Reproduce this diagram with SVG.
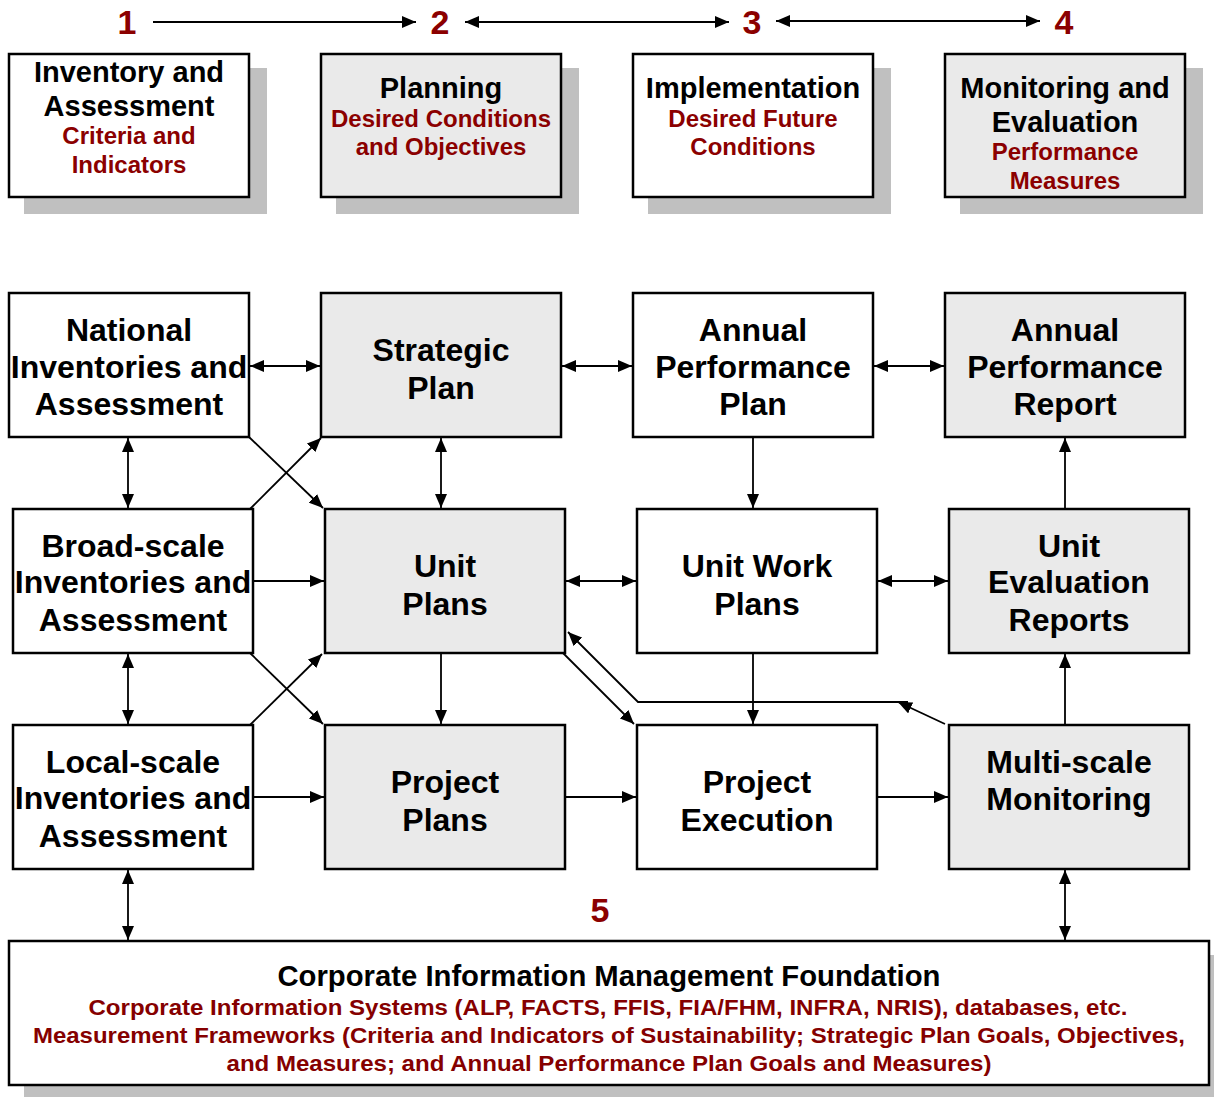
<svg xmlns="http://www.w3.org/2000/svg" width="1214" height="1097" viewBox="0 0 1214 1097">
<style>
.bx{stroke:#000;stroke-width:2.5}
.w{fill:#fff}
.g{fill:#eaeaea}
.sh{fill:#c0c0c0}
text{font-family:"Liberation Sans",Arial,sans-serif;font-weight:bold;text-anchor:middle}
.t{font-size:29px;fill:#000}
.r{font-size:24px;fill:#8b0000}
.m{font-size:32px;fill:#000}
.n{font-size:34px;fill:#8b0000}
.f{font-size:29px;fill:#000}
.fr{font-size:22px;fill:#850000}
.c{fill:none;stroke:#000;stroke-width:1.8}
</style>
<defs>
<marker id="ah" markerUnits="userSpaceOnUse" markerWidth="14" markerHeight="12" refX="14" refY="6" orient="auto-start-reverse" viewBox="0 0 14 12">
<path d="M0,0 L14,6 L0,12 z" fill="#000"/>
</marker>
</defs>
<rect width="1214" height="1097" fill="#fff"/>

<g id="num1"><text class="n" x="127" y="34">1</text></g>
<g id="num2"><text class="n" x="440" y="34">2</text></g>
<g id="num3"><text class="n" x="752" y="34">3</text></g>
<g id="num4"><text class="n" x="1064" y="34">4</text></g>
<g id="num5"><text class="n" x="600" y="922">5</text></g>

<g id="phase1">
<rect class="sh" x="24" y="68" width="243" height="146"/>
<rect class="bx w" x="9" y="54" width="240" height="143"/>
<text class="t" x="129" y="82">Inventory and</text>
<text class="t" x="129" y="116">Assessment</text>
<text class="r" x="129" y="144">Criteria and</text>
<text class="r" x="129" y="173">Indicators</text>
</g>
<g id="phase2">
<rect class="sh" x="336" y="68" width="243" height="146"/>
<rect class="bx g" x="321" y="54" width="240" height="143"/>
<text class="t" x="441" y="98">Planning</text>
<text class="r" x="441" y="127">Desired Conditions</text>
<text class="r" x="441" y="155">and Objectives</text>
</g>
<g id="phase3">
<rect class="sh" x="648" y="68" width="243" height="146"/>
<rect class="bx w" x="633" y="54" width="240" height="143"/>
<text class="t" x="753" y="98">Implementation</text>
<text class="r" x="753" y="127">Desired Future</text>
<text class="r" x="753" y="155">Conditions</text>
</g>
<g id="phase4">
<rect class="sh" x="960" y="68" width="243" height="146"/>
<rect class="bx g" x="945" y="54" width="240" height="143"/>
<text class="t" x="1065" y="98">Monitoring and</text>
<text class="t" x="1065" y="132">Evaluation</text>
<text class="r" x="1065" y="160">Performance</text>
<text class="r" x="1065" y="189">Measures</text>
</g>

<g id="national">
<rect class="bx w" x="9" y="293" width="240" height="144"/>
<text class="m" x="129" y="341">National</text>
<text class="m" x="129" y="378">Inventories and</text>
<text class="m" x="129" y="415">Assessment</text>
</g>
<g id="strategic">
<rect class="bx g" x="321" y="293" width="240" height="144"/>
<text class="m" x="441" y="361">Strategic</text>
<text class="m" x="441" y="399">Plan</text>
</g>
<g id="app">
<rect class="bx w" x="633" y="293" width="240" height="144"/>
<text class="m" x="753" y="341">Annual</text>
<text class="m" x="753" y="378">Performance</text>
<text class="m" x="753" y="415">Plan</text>
</g>
<g id="apr">
<rect class="bx g" x="945" y="293" width="240" height="144"/>
<text class="m" x="1065" y="341">Annual</text>
<text class="m" x="1065" y="378">Performance</text>
<text class="m" x="1065" y="415">Report</text>
</g>

<g id="broad">
<rect class="bx w" x="13" y="509" width="240" height="144"/>
<text class="m" x="133" y="557">Broad-scale</text>
<text class="m" x="133" y="593">Inventories and</text>
<text class="m" x="133" y="631">Assessment</text>
</g>
<g id="unitplans">
<rect class="bx g" x="325" y="509" width="240" height="144"/>
<text class="m" x="445" y="577">Unit</text>
<text class="m" x="445" y="615">Plans</text>
</g>
<g id="unitwork">
<rect class="bx w" x="637" y="509" width="240" height="144"/>
<text class="m" x="757" y="577">Unit Work</text>
<text class="m" x="757" y="615">Plans</text>
</g>
<g id="uer">
<rect class="bx g" x="949" y="509" width="240" height="144"/>
<text class="m" x="1069" y="557">Unit</text>
<text class="m" x="1069" y="593">Evaluation</text>
<text class="m" x="1069" y="631">Reports</text>
</g>

<g id="local">
<rect class="bx w" x="13" y="725" width="240" height="144"/>
<text class="m" x="133" y="773">Local-scale</text>
<text class="m" x="133" y="809">Inventories and</text>
<text class="m" x="133" y="847">Assessment</text>
</g>
<g id="projplans">
<rect class="bx g" x="325" y="725" width="240" height="144"/>
<text class="m" x="445" y="793">Project</text>
<text class="m" x="445" y="831">Plans</text>
</g>
<g id="projexec">
<rect class="bx w" x="637" y="725" width="240" height="144"/>
<text class="m" x="757" y="793">Project</text>
<text class="m" x="757" y="831">Execution</text>
</g>
<g id="multiscale">
<rect class="bx g" x="949" y="725" width="240" height="144"/>
<text class="m" x="1069" y="773">Multi-scale</text>
<text class="m" x="1069" y="810">Monitoring</text>
</g>

<g id="foundation">
<rect class="sh" x="24" y="955" width="1200" height="146"/>
<rect class="bx w" x="9" y="941" width="1200" height="144"/>
<text class="f" x="609" y="986" textLength="663" lengthAdjust="spacingAndGlyphs">Corporate Information Management Foundation</text>
<text class="fr" x="608" y="1015" textLength="1039" lengthAdjust="spacingAndGlyphs">Corporate Information Systems (ALP, FACTS, FFIS, FIA/FHM, INFRA, NRIS), databases, etc.</text>
<text class="fr" x="609" y="1043" textLength="1152" lengthAdjust="spacingAndGlyphs">Measurement Frameworks (Criteria and Indicators of Sustainability; Strategic Plan Goals, Objectives,</text>
<text class="fr" x="609" y="1071" textLength="765" lengthAdjust="spacingAndGlyphs">and Measures; and Annual Performance Plan Goals and Measures)</text>
</g>

<g id="connectors">
<line class="c" x1="153" y1="22" x2="416" y2="22" marker-end="url(#ah)"/>
<line class="c" x1="465" y1="22" x2="729" y2="22" marker-start="url(#ah)" marker-end="url(#ah)"/>
<line class="c" x1="776" y1="21" x2="1040" y2="21" marker-start="url(#ah)" marker-end="url(#ah)"/>

<line class="c" x1="250" y1="366" x2="320" y2="366" marker-start="url(#ah)" marker-end="url(#ah)"/>
<line class="c" x1="562" y1="366" x2="632" y2="366" marker-start="url(#ah)" marker-end="url(#ah)"/>
<line class="c" x1="874" y1="366" x2="944" y2="366" marker-start="url(#ah)" marker-end="url(#ah)"/>

<line class="c" x1="128" y1="438" x2="128" y2="508" marker-start="url(#ah)" marker-end="url(#ah)"/>
<line class="c" x1="249" y1="437" x2="323" y2="508" marker-end="url(#ah)"/>
<line class="c" x1="250" y1="509" x2="321" y2="438" marker-end="url(#ah)"/>
<line class="c" x1="441" y1="438" x2="441" y2="508" marker-start="url(#ah)" marker-end="url(#ah)"/>
<line class="c" x1="753" y1="437" x2="753" y2="508" marker-end="url(#ah)"/>
<line class="c" x1="1065" y1="509" x2="1065" y2="438" marker-end="url(#ah)"/>

<line class="c" x1="253" y1="581" x2="324" y2="581" marker-end="url(#ah)"/>
<line class="c" x1="566" y1="581" x2="636" y2="581" marker-start="url(#ah)" marker-end="url(#ah)"/>
<line class="c" x1="878" y1="581" x2="948" y2="581" marker-start="url(#ah)" marker-end="url(#ah)"/>

<line class="c" x1="128" y1="654" x2="128" y2="724" marker-start="url(#ah)" marker-end="url(#ah)"/>
<line class="c" x1="250" y1="653" x2="323" y2="724" marker-end="url(#ah)"/>
<line class="c" x1="250" y1="725" x2="322" y2="654" marker-end="url(#ah)"/>
<line class="c" x1="441" y1="653" x2="441" y2="724" marker-end="url(#ah)"/>
<line class="c" x1="563" y1="653" x2="634" y2="724" marker-end="url(#ah)"/>
<line class="c" x1="753" y1="653" x2="753" y2="724" marker-end="url(#ah)"/>
<line class="c" x1="1065" y1="725" x2="1065" y2="654" marker-end="url(#ah)"/>

<line class="c" x1="945" y1="724" x2="898" y2="702" marker-end="url(#ah)"/>
<polyline class="c" points="908,702 638,702 568,632" marker-end="url(#ah)"/>

<line class="c" x1="253" y1="797" x2="324" y2="797" marker-end="url(#ah)"/>
<line class="c" x1="565" y1="797" x2="636" y2="797" marker-end="url(#ah)"/>
<line class="c" x1="877" y1="797" x2="948" y2="797" marker-end="url(#ah)"/>

<line class="c" x1="128" y1="870" x2="128" y2="940" marker-start="url(#ah)" marker-end="url(#ah)"/>
<line class="c" x1="1065" y1="870" x2="1065" y2="940" marker-start="url(#ah)" marker-end="url(#ah)"/>
</g>
</svg>
